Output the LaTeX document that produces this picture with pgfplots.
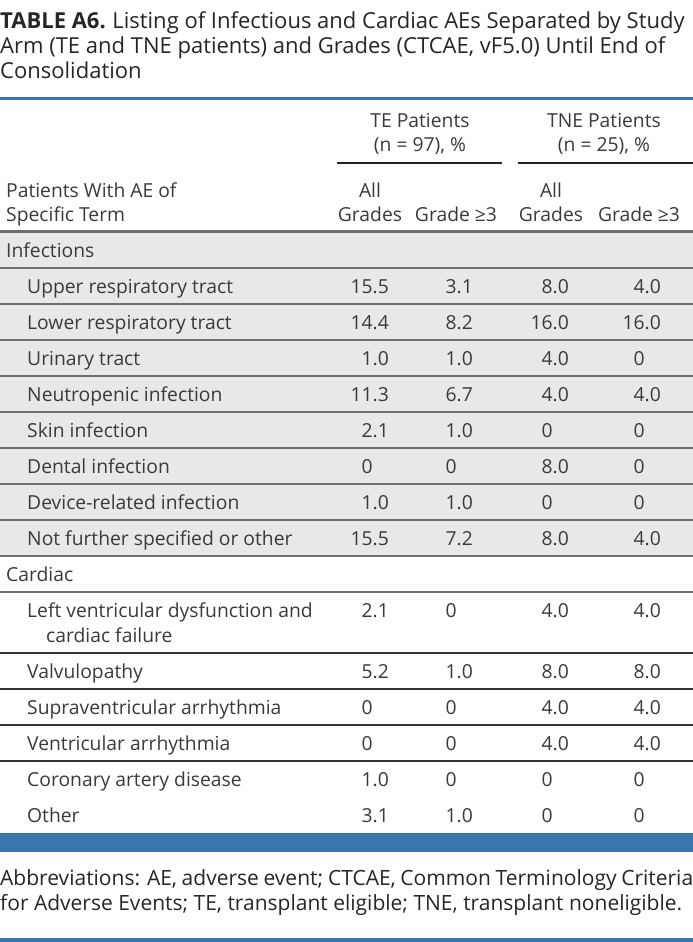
\documentclass[border=0pt]{standalone}
\usepackage{fontspec}
\setmainfont{Open Sans}
\usepackage{pgfplots}
\usepackage{pgfplotstable}
\pgfplotsset{compat=1.18}

\definecolor{jcoblue}{RGB}{57,118,173}
\definecolor{rowgray}{RGB}{232,232,232}
\definecolor{rulegray}{RGB}{110,110,110}
\definecolor{txt}{RGB}{58,58,58}

% baseline (px from top) and the four percentage columns
\pgfplotstableread{
y    teall teg3 tneall tneg3
293  15.5  3.1  8.0    4.0
329  14.4  8.2  16.0   16.0
365  1.0   1.0  4.0    0
401  11.3  6.7  4.0    4.0
437  2.1   1.0  0      0
473  0     0    8.0    0
509  1.0   1.0  0      0
545  15.5  7.2  8.0    4.0
617  2.1   0    4.0    4.0
678  5.2   1.0  8.0    8.0
714  0     0    4.0    4.0
750  0     0    4.0    4.0
786  1.0   0    0      0
822  3.1   1.0  0      0
}\aedata

\tikzset{cell/.style={font=\fontsize{19.3}{22}\selectfont, text=txt, inner sep=0pt},
  ttl/.style={font=\fontsize{22}{25}\selectfont, text=black!85, inner sep=0pt, anchor=base west},
  foot/.style={font=\fontsize{21}{25}\selectfont, text=black!85, inner sep=0pt, anchor=base west}}
\pgfplotsset{valcol/.style={draw=none, mark=none, point meta=explicit,
  nodes near coords={\pgfmathfloatifflags{\pgfplotspointmeta}{0}{0\phantom{.0}}{\pgfmathprintnumber[fixed,fixed zerofill,precision=1,assume math mode=true]{\pgfplotspointmeta}}},
  every node near coord/.append style={cell, anchor=base east}}}

\begin{document}
\begin{tikzpicture}
\begin{axis}[scale only axis, width=693pt, height=942pt,
  xmin=0, xmax=693, ymin=0, ymax=942, y dir=reverse,
  hide axis, clip=false]
  \fill[white] (0,0) rectangle (693,942);
  % title
  \node[ttl] at (0,29) {\textbf{TABLE A6.}\hspace{0.3em}Listing of Infectious and Cardiac AEs Separated by Study};
  \node[ttl] at (0,54) {Arm (TE and TNE patients) and Grades (CTCAE, vF5.0) Until End of};
  \node[ttl] at (0,78) {Consolidation};
  \fill[jcoblue] (0,97) rectangle (693,100);
  % header
  \node[cell, anchor=base] at (420,127) {TE Patients};
  \node[cell, anchor=base] at (420,151) {(n = 97), \%};
  \node[cell, anchor=base] at (604,127) {TNE Patients};
  \node[cell, anchor=base] at (604,151) {(n = 25), \%};
  \draw[black!85, line width=2pt] (337,163) -- (502,163);
  \draw[black!85, line width=2pt] (518,163) -- (693,163);
  \node[cell, anchor=base west] at (6,197) {Patients With AE of};
  \node[cell, anchor=base west] at (6,221) {Specific Term};
  \node[cell, anchor=base] at (370,197) {All};
  \node[cell, anchor=base] at (370,221) {Grades};
  \node[cell, anchor=base] at (456,221) {Grade ≥3};
  \node[cell, anchor=base] at (551,197) {All};
  \node[cell, anchor=base] at (551,221) {Grades};
  \node[cell, anchor=base] at (639,221) {Grade ≥3};
  % body background and rules
  \fill[rowgray] (0,232) rectangle (693,556);
  \draw[rulegray, line width=2.6pt] (0,231.5) -- (693,231.5);
  \draw[rulegray, line width=2.6pt] (0,268) -- (693,268);
  \draw[rulegray, line width=2.6pt] (0,304) -- (693,304);
  \draw[rulegray, line width=2.6pt] (0,340) -- (693,340);
  \draw[rulegray, line width=2.6pt] (0,376) -- (693,376);
  \draw[rulegray, line width=2.6pt] (0,412) -- (693,412);
  \draw[rulegray, line width=2.6pt] (0,448) -- (693,448);
  \draw[rulegray, line width=2.6pt] (0,484) -- (693,484);
  \draw[rulegray, line width=2.6pt] (0,520) -- (693,520);
  \draw[rulegray, line width=2.6pt] (0,556) -- (693,556);
  \draw[rulegray, line width=2.6pt] (0,592) -- (693,592);
  \draw[black!80, line width=1.8pt] (0,653) -- (693,653);
  \draw[black!80, line width=1.8pt] (0,689) -- (693,689);
  \draw[black!80, line width=1.8pt] (0,725) -- (693,725);
  \draw[black!80, line width=1.8pt] (0,761) -- (693,761);
  \fill[jcoblue] (0,833) rectangle (693,852);
  \fill[jcoblue] (0,938) rectangle (693,942);
  % row labels
  \node[cell, anchor=base west] at (6,257) {Infections};
  \node[cell, anchor=base west] at (27,293) {Upper respiratory tract};
  \node[cell, anchor=base west] at (27,329) {Lower respiratory tract};
  \node[cell, anchor=base west] at (27,365) {Urinary tract};
  \node[cell, anchor=base west] at (27,401) {Neutropenic infection};
  \node[cell, anchor=base west] at (27,437) {Skin infection};
  \node[cell, anchor=base west] at (27,473) {Dental infection};
  \node[cell, anchor=base west] at (27,509) {Device-related infection};
  \node[cell, anchor=base west] at (27,545) {Not further specified or other};
  \node[cell, anchor=base west] at (6,581) {Cardiac};
  \node[cell, anchor=base west] at (27,617) {Left ventricular dysfunction and};
  \node[cell, anchor=base west] at (46,642) {cardiac failure};
  \node[cell, anchor=base west] at (27,678) {Valvulopathy};
  \node[cell, anchor=base west] at (27,714) {Supraventricular arrhythmia};
  \node[cell, anchor=base west] at (27,750) {Ventricular arrhythmia};
  \node[cell, anchor=base west] at (27,786) {Coronary artery disease};
  \node[cell, anchor=base west] at (27,822) {Other};
  % values
  \addplot[valcol] table[x expr=389, y=y, meta=teall] {\aedata};
  \addplot[valcol] table[x expr=473, y=y, meta=teg3] {\aedata};
  \addplot[valcol] table[x expr=569, y=y, meta=tneall] {\aedata};
  \addplot[valcol] table[x expr=661, y=y, meta=tneg3] {\aedata};
  % footnote
  \node[foot] at (0,885) {\makebox[693pt][s]{Abbreviations: AE, adverse event; CTCAE, Common Terminology Criteria}};
  \node[foot] at (0,910) {for Adverse Events; TE, transplant eligible; TNE, transplant noneligible.};
\end{axis}
\pgfresetboundingbox
\path (current axis.south west) rectangle (current axis.north east);
\end{tikzpicture}
\end{document}
